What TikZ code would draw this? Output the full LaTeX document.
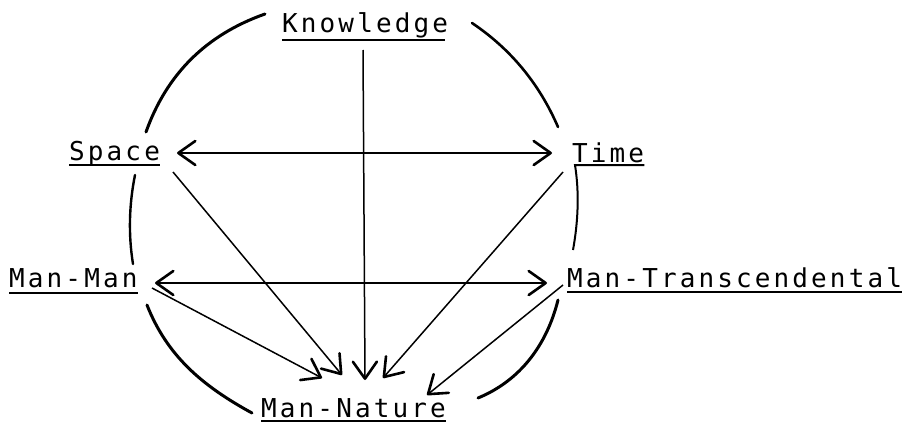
\documentclass[tikz,border=0pt]{standalone}
\usepackage{fontspec}
\usetikzlibrary{arrows.meta}
\newfontfamily\plotfont{DejaVu Sans Mono}[LetterSpace=12]
\begin{document}
\begin{tikzpicture}[x=1pt,y=-1pt,
  lab/.style={anchor=base west,inner sep=0pt,font=\plotfont\fontsize{26pt}{31pt}\selectfont},
  ul/.style={line width=1.8pt},
  arc/.style={line width=3pt,line cap=round},
  conn/.style={line width=1.5pt},
  tipk/.tip={Straight Barb[length=17pt,width=24pt,line width=2.6pt,round]}
]
\useasboundingbox (0,0) rectangle (913,423);
% labels
\node[lab] (K)  at (282,32)  {Knowledge};
\node[lab] (S)  at (69,160)  {Space};
\node[lab] (T)  at (572,162) {Time};
\node[lab] (MM) at (9,287)   {Man-Man};
\node[lab] (MT) at (567,287) {Man-Transcendental};
\node[lab] (MN) at (261,417) {Man-Nature};
% underlines
\draw[ul] ([yshift=-8pt]K.base west) -- ([yshift=-8pt,xshift=-3pt]K.base east);
\draw[ul] ([yshift=-5pt]S.base west) -- ([yshift=-5pt]S.base east);
\draw[ul] ([yshift=-6pt]MM.base west) -- ([yshift=-6pt]MM.base east);
\draw[ul] ([yshift=-5pt]MT.base west) -- ([yshift=-5pt]MT.base east);
\draw[ul] ([yshift=-4pt]MN.base west) -- ([yshift=-4pt]MN.base east);
% circle arcs
\coordinate (a1) at (265,14);  \coordinate (b1) at (146,132);
\coordinate (a2) at (472,23);  \coordinate (b2) at (558,127);
\coordinate (a3) at (135,175); \coordinate (b3) at (133,264);
\coordinate (a4) at ([yshift=-3pt,xshift=3pt]T.base west); \coordinate (b4) at (573,250);
\coordinate (a5) at (147,305); \coordinate (b5) at (252,413);
\coordinate (a6) at (558,300); \coordinate (b6) at (478,398);
\draw[arc] (a1) .. controls (206.3,34.7) and (166.7,74) .. (b1);
\draw[arc,line width=2.6pt] (a2) .. controls (510.7,49) and (539.3,83.7) .. (b2);
\draw[arc,line width=2.4pt] (a3) .. controls (129,205) and (128.3,234.7) .. (b3);
% Time underline joined to the right-middle arc
\draw[line width=2pt,line join=miter] ([yshift=-3pt]T.base east) -- (a4) .. controls (579.3,192.3) and (578.3,220.7) .. (b4);
\draw[arc] (a5) .. controls (167,355.7) and (202,385.7) .. (b5);
\draw[arc] (a6) .. controls (546.7,345.3) and (520,380.7) .. (b6);
% connector end points
\coordinate (k1) at (363,50);   \coordinate (nk) at (365,380);
\coordinate (s1) at (177,153);  \coordinate (t1) at (552,153);
\coordinate (m1) at (155,283);  \coordinate (r1) at (547,283);
\coordinate (s2) at (173,172);  \coordinate (ns) at (342,375);
\coordinate (t2) at (563,172);  \coordinate (nt) at (383,378);
\coordinate (m2) at (152,288);  \coordinate (nm) at (322,378);
\coordinate (r2) at (563,285);  \coordinate (nr) at (427,395);
% connectors
\draw[conn,-tipk] (k1) -- (nk);
\draw[conn,tipk-tipk] (s1) -- (t1);
\draw[conn,tipk-tipk] (m1) -- (r1);
\draw[conn,-tipk] (s2) -- (ns);
\draw[conn,-tipk] (t2) -- (nt);
\draw[conn,-tipk] (m2) -- (nm);
\draw[conn,-tipk] (r2) -- (nr);
\end{tikzpicture}
\end{document}
